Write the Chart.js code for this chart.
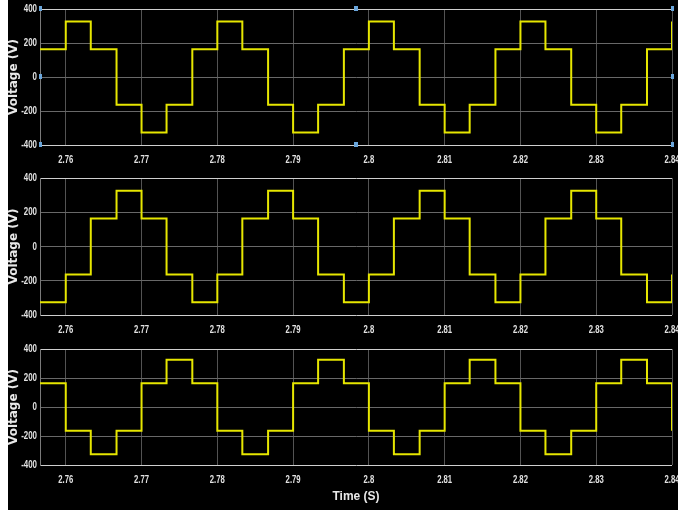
<!DOCTYPE html>
<html>
<head>
<meta charset="utf-8">
<script src="https://cdn.jsdelivr.net/npm/chart.js@4.4.1/dist/chart.umd.min.js"></script>
<style>
  html, body { margin: 0; padding: 0; background: #fff; }
  #wrap { position: absolute; left: 8px; top: 0; width: 670px; height: 510px; background: #000; }
  .panel { position: absolute; left: 0; width: 670px; height: 170px; }
</style>
</head>
<body>
<div id="wrap">
  <div class="panel" style="top:0"><canvas id="c1"></canvas></div>
  <div class="panel" style="top:170px"><canvas id="c2"></canvas></div>
  <div class="panel" style="top:340px"><canvas id="c3"></canvas></div>
</div>
<script>
// switching instants (s)
const times = [2.7566, 2.76, 2.7633, 2.7667, 2.77, 2.7733, 2.7767,
               2.78, 2.7833, 2.7867, 2.79, 2.7933, 2.7967,
               2.80, 2.8033, 2.8067, 2.81, 2.8133, 2.8167,
               2.82, 2.8233, 2.8267, 2.83, 2.8333, 2.8367, 2.84];

// voltage level held from each instant (V)
const phaseA = [163, 326, 163, -163, -326, -163, 163,
                326, 163, -163, -326, -163, 163,
                326, 163, -163, -326, -163, 163,
                326, 163, -163, -326, -163, 163, 326];
const phaseB = [-326, -163, 163, 326, 163, -163, -326,
                -163, 163, 326, 163, -163, -326,
                -163, 163, 326, 163, -163, -326,
                -163, 163, 326, 163, -163, -326, -163];
const phaseC = [163, -163, -326, -163, 163, 326, 163,
                -163, -326, -163, 163, 326, 163,
                -163, -326, -163, 163, 326, 163,
                -163, -326, -163, 163, 326, 163, -163];

const xTicks = [2.76, 2.77, 2.78, 2.79, 2.80, 2.81, 2.82, 2.83, 2.84];
const xTickLabels = ['2.76', '2.77', '2.78', '2.79', '2.8', '2.81', '2.82', '2.83', '2.84'];
const yTicks = [-400, -200, 0, 200, 400];
const yTickLabels = ['-400', '-200', '0', '200', '400'];

// scope-style narrow tick text (squeezed horizontally)
const narrowTicks = {
  id: 'narrowTicks',
  afterDraw(chart) {
    const ctx = chart.ctx, a = chart.chartArea;
    const xs = chart.scales.x, ys = chart.scales.y;
    ctx.save();
    ctx.font = 'bold 11px "Liberation Sans", Arial, sans-serif';
    ctx.fillStyle = '#e2e2e2';
    xTicks.forEach((v, i) => {
      ctx.save();
      ctx.translate(xs.getPixelForValue(v), a.bottom + 9);
      ctx.scale(0.7, 1);
      ctx.textAlign = 'center';
      ctx.textBaseline = 'top';
      ctx.fillText(xTickLabels[i], 0, 0);
      ctx.restore();
    });
    yTicks.forEach((v, i) => {
      ctx.save();
      ctx.translate(a.left - 3, ys.getPixelForValue(v));
      ctx.scale(0.72, 1);
      ctx.textAlign = 'right';
      ctx.textBaseline = 'middle';
      ctx.fillText(yTickLabels[i], 0, 0);
      ctx.restore();
    });
    ctx.restore();
  }
};

// little blue axis handles (selected scope in the first panel)
const handles = {
  id: 'handles',
  afterDraw(chart, args, opts) {
    if (!opts.show) return;
    const a = chart.chartArea, ctx = chart.ctx;
    const mx = (a.left + a.right) / 2, my = (a.top + a.bottom) / 2;
    ctx.save();
    ctx.fillStyle = '#6aa6dc';
    [[a.left, a.top], [a.left, my], [a.left, a.bottom],
     [a.right, a.top], [a.right, my], [a.right, a.bottom]].forEach(p => ctx.fillRect(p[0] - 1, p[1] - 3, 3, 5));
    [[mx, a.top], [mx, a.bottom]].forEach(p => ctx.fillRect(p[0] - 2, p[1] - 3, 4, 5));
    ctx.restore();
  }
};

function makePanel(id, values, opts) {
  const ctx = document.getElementById(id).getContext('2d');
  return new Chart(ctx, {
    type: 'line',
    data: {
      datasets: [{
        data: times.map((t, i) => ({ x: t, y: values[i] })),
        borderColor: '#e6e600',
        borderWidth: 2,
        stepped: 'before',
        pointRadius: 0,
        fill: false
      }]
    },
    options: {
      responsive: false,
      animation: false,
      layout: { padding: { top: opts.top, right: 6, left: 0, bottom: 0 } },
      plugins: { legend: { display: false }, tooltip: { enabled: false }, handles: { show: !!opts.handles } },
      scales: {
        x: {
          type: 'linear',
          min: times[0],
          max: 2.84,
          afterBuildTicks: s => { s.ticks = xTicks.map(v => ({ value: v })); },
          afterFit: s => { s.height = opts.xh; s.paddingLeft = 0; s.paddingRight = 0; },
          ticks: { display: false },
          grid: { color: '#535353', drawTicks: false },
          border: { display: false },
          title: {
            display: !!opts.xtitle,
            text: 'Time (S)',
            color: '#e8e8e8',
            font: { family: '"Liberation Sans", Arial, sans-serif', size: 12, weight: 'bold' },
            padding: { top: 0, bottom: 6 }
          }
        },
        y: {
          min: -400,
          max: 400,
          afterBuildTicks: s => { s.ticks = yTicks.map(v => ({ value: v })); },
          afterFit: s => { s.width = 32; },
          ticks: { display: false },
          grid: {
            color: c => (Math.abs(c.tick.value) === 400 ? '#cfcfcf' : '#686868'),
            drawTicks: false
          },
          border: { color: '#7a7a7a' },
          title: {
            display: true,
            text: 'Voltage (V)',
            color: '#e8e8e8',
            font: { family: '"DejaVu Sans", sans-serif', size: 12, weight: 'bold', lineHeight: 1 },
            padding: { top: 0, bottom: 0 }
          }
        }
      }
    },
    plugins: [narrowTicks, handles]
  });
}

['c1', 'c2', 'c3'].forEach(id => {
  const c = document.getElementById(id);
  c.width = 670; c.height = 170;
});

makePanel('c1', phaseA, { top: 9, xh: 25, handles: true });
makePanel('c2', phaseB, { top: 8, xh: 25 });
makePanel('c3', phaseC, { top: 9, xh: 45, xtitle: true });
</script>
</body>
</html>
